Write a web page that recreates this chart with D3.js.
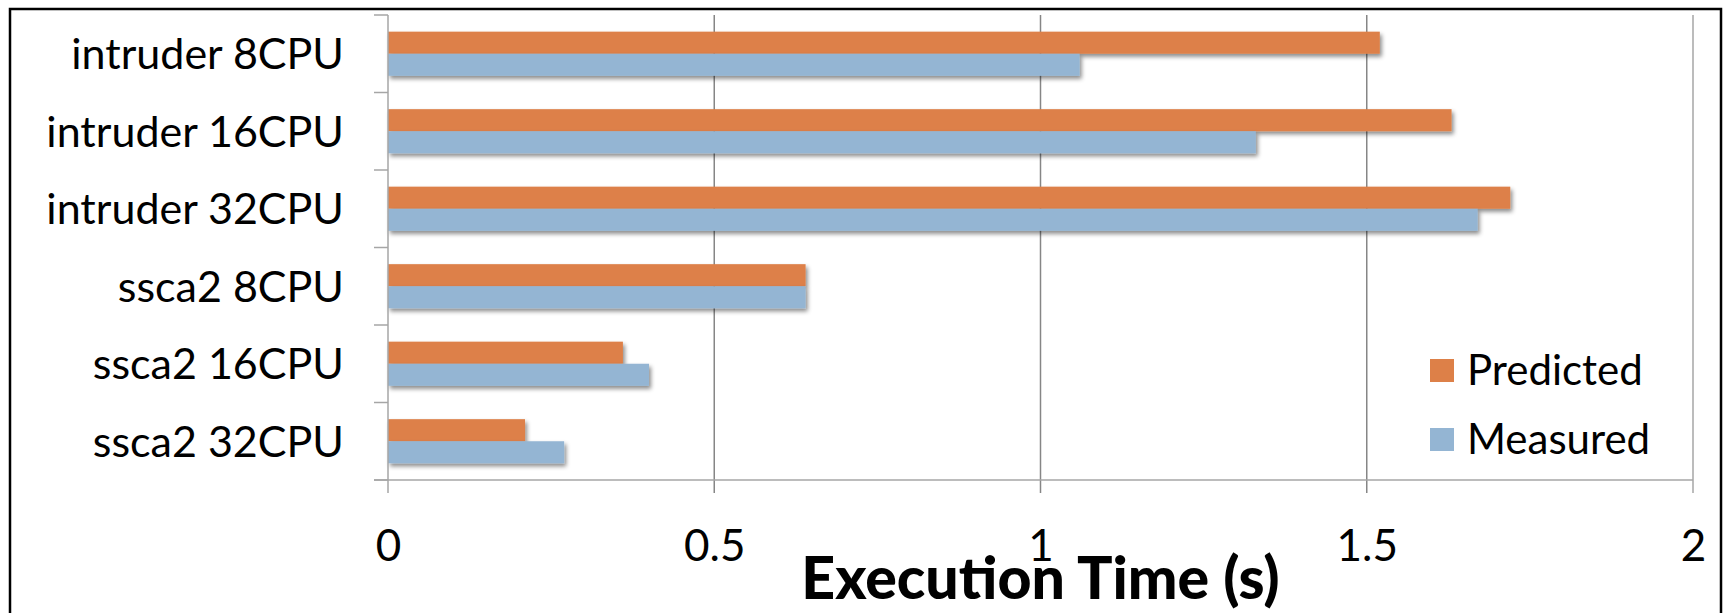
<!DOCTYPE html>
<html>
<head>
<meta charset="utf-8">
<script src="https://cdn.jsdelivr.net/npm/d3@7"></script>
<style>
  html, body { margin: 0; padding: 0; background: #fff; }
  svg { display: block; font-family: Lato, "Open Sans", sans-serif; }
</style>
</head>
<body>
<svg id="chart" width="1725" height="613"></svg>
<script>
const categories = ["intruder 8CPU", "intruder 16CPU", "intruder 32CPU", "ssca2 8CPU", "ssca2 16CPU", "ssca2 32CPU"];
const predicted = [1.52, 1.63, 1.72, 0.64, 0.36, 0.21];
const measured = [1.06, 1.33, 1.67, 0.64, 0.40, 0.27];
const seriesNames = ["Predicted", "Measured"];
const seriesColors = ["#dd8048", "#94b5d3"];
const xTicks = [0, 0.5, 1, 1.5, 2];

const svg = d3.select("#chart");
const plotLeft = 388, plotRight = 1693, plotTop = 15, plotBottom = 480;

const x = d3.scaleLinear().domain([0, 2]).range([plotLeft, plotRight]);
const y = d3.scaleBand().domain(categories).range([plotTop, plotBottom])
    .paddingInner(0.43).paddingOuter(0.215);
const ySub = d3.scaleBand().domain(seriesNames).range([0, y.bandwidth()]);
const color = d3.scaleOrdinal().domain(seriesNames).range(seriesColors);

// drop shadow like the office chart
const defs = svg.append("defs");
defs.append("filter").attr("id", "shadow")
    .attr("x", "-5%").attr("y", "-30%").attr("width", "115%").attr("height", "180%")
    .append("feDropShadow")
    .attr("dx", 2).attr("dy", 3).attr("stdDeviation", 2)
    .attr("flood-color", "#000").attr("flood-opacity", 0.45);

// outer frame
svg.append("rect")
    .attr("x", 10).attr("y", 9).attr("width", 1711).attr("height", 640)
    .attr("fill", "none").attr("stroke", "#000").attr("stroke-width", 2.5);

// vertical gridlines + x ticks
svg.append("g").selectAll("line")
    .data(xTicks.slice(1))
    .join("line")
    .attr("x1", d => x(d)).attr("x2", d => x(d))
    .attr("y1", plotTop).attr("y2", plotBottom + 13)
    .attr("stroke", (d, i) => i === xTicks.length - 2 ? "#a6a6a6" : "#868686")
    .attr("stroke-width", 1.5);

// x axis labels
const xAxis = svg.append("g")
    .attr("transform", `translate(0,${plotBottom})`)
    .call(d3.axisBottom(x).tickValues(xTicks).tickSize(0).tickPadding(50)
        .tickFormat(d => String(d)));
xAxis.select(".domain").remove();
xAxis.selectAll("text").attr("font-size", 44).attr("fill", "#000")
    .attr("font-family", "Lato, sans-serif");

// bars
const groups = svg.append("g").selectAll("g")
    .data(categories)
    .join("g")
    .attr("transform", d => `translate(0,${y(d)})`);

groups.selectAll("rect")
    .data((d, i) => [
        { key: "Predicted", value: predicted[i] },
        { key: "Measured", value: measured[i] }
    ])
    .join("rect")
    .attr("x", x(0))
    .attr("y", d => ySub(d.key))
    .attr("width", d => x(d.value) - x(0))
    .attr("height", ySub.bandwidth())
    .attr("fill", d => color(d.key))
    .attr("filter", "url(#shadow)");

// axis lines
svg.append("line")
    .attr("x1", x(0)).attr("x2", x(0)).attr("y1", plotTop).attr("y2", plotBottom + 13)
    .attr("stroke", "#a6a6a6").attr("stroke-width", 1.5);
svg.append("line")
    .attr("x1", x(0) - 14).attr("x2", x(2)).attr("y1", plotBottom).attr("y2", plotBottom)
    .attr("stroke", "#a6a6a6").attr("stroke-width", 1.5);

// category boundary ticks
const bounds = categories.map(c => y(c) - y.step() * y.paddingInner() / 2).concat([plotBottom]);
svg.append("g").selectAll("line")
    .data(bounds)
    .join("line")
    .attr("x1", x(0) - 14).attr("x2", x(0))
    .attr("y1", d => d).attr("y2", d => d)
    .attr("stroke", "#a6a6a6").attr("stroke-width", 1.5);

// y axis labels
const yAxis = svg.append("g")
    .attr("transform", `translate(${x(0)},0)`)
    .call(d3.axisLeft(y).tickSize(0).tickPadding(44));
yAxis.select(".domain").remove();
yAxis.selectAll("text").attr("font-size", 43).attr("fill", "#000")
    .attr("font-family", "Lato, sans-serif").attr("dy", "0.36em");

// axis title
svg.append("text")
    .attr("x", (x(0) + x(2)) / 2).attr("y", 599)
    .attr("text-anchor", "middle")
    .attr("font-size", 59).attr("font-weight", 900)
    .text("Execution Time (s)");

// legend
const legend = svg.append("g").selectAll("g")
    .data(seriesNames)
    .join("g")
    .attr("transform", (d, i) => `translate(1430,${359 + i * 69})`);
legend.append("rect")
    .attr("width", 24).attr("height", 23)
    .attr("fill", d => color(d));
legend.append("text")
    .attr("x", 37).attr("y", 26)
    .attr("font-size", 42)
    .text(d => d);
</script>
</body>
</html>
